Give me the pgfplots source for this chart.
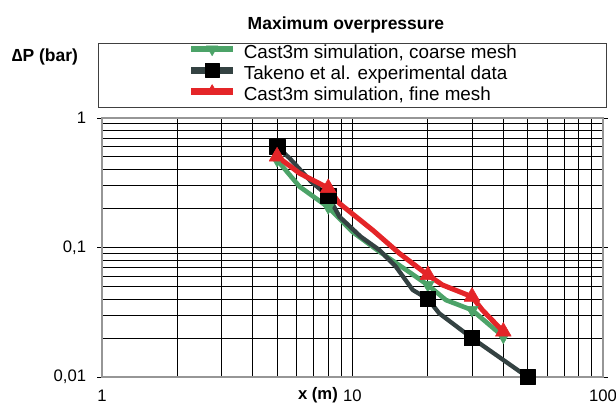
\documentclass[border=0pt]{standalone}
\usepackage{pgfplots}
\pgfplotsset{compat=1.18}
\usepackage{fontspec}
\setmainfont{Liberation Sans}

\definecolor{coarse}{RGB}{76,163,104}
\definecolor{expline}{RGB}{52,66,66}
\definecolor{fine}{RGB}{228,37,40}
\definecolor{framegray}{RGB}{150,150,150}

\begin{document}
\begin{tikzpicture}
% page frame: 616 x 407 px at 0.6pt per px, axis box at (102..603, 118..377)
\useasboundingbox (-61.2pt,-18pt) rectangle (308.4pt,226.2pt);
\begin{axis}[
  xmode=log, ymode=log,
  scale only axis,
  width=300.6pt, height=155.4pt,
  xmin=1, xmax=100, ymin=0.01, ymax=1,
  xtick={1,10,100}, xticklabels={1,10,100},
  ytick={0.01,0.1,1}, yticklabels={{0,01},{0,1},{1}},
  grid=both,
  major grid style={black, line width=0.6pt},
  minor grid style={black, line width=0.6pt},
  axis line style={framegray, line width=1.5pt},
  xtick style={draw=none},
  ytick style={black, line width=0.6pt},
  minor tick length=0pt,
  major tick length=3pt,
  tick align=outside,
  tick label style={font=\fontsize{10}{12}\selectfont},
  /pgf/number format/assume math mode=true,
  xticklabel style={yshift=-1pt},
  yticklabel style={xshift=-3pt},
  clip=false,
  legend style={at={(0.5,1)}, anchor=south, yshift=6.3pt,
    draw=black!75, line width=0.6pt, inner xsep=53.6pt, inner ysep=1.2pt,
    font=\fontsize{11.3}{13}\selectfont, row sep=0.4pt, column sep=4.5pt,
    nodes={inner sep=0pt, text height=8pt, text depth=2.5pt}},
  legend cell align=left,
  legend image code/.code={%
    \draw[line width=4pt, mark size=4pt, mark indices={2}]
      plot coordinates {(0pt,3pt) (12.5pt,3pt) (25pt,3pt)};},
]

% coarse mesh
\addplot[coarse, line width=2.8pt, line join=round, mark=triangle*,
  mark size=4.3pt, mark options={rotate=180, line width=0.3pt},
  mark indices={1,3,7,9,10}]
  coordinates {
  (5,0.474) (6.15,0.295) (8,0.205) (10,0.132) (12.8,0.093)
  (16.4,0.067) (20,0.0513) (23.6,0.0393) (30,0.0329) (40,0.0205)
  };
\addlegendentry{Cast3m simulation, coarse mesh}

% experimental data
\addplot[expline, line width=2.6pt, line join=round, mark=square*,
  mark size=4.6pt, mark options={black, fill=black, line width=0.3pt},
  mark indices={1,4,10,12,13}]
  coordinates {
  (5,0.6) (5.61,0.489) (6.84,0.322) (8,0.25) (8.87,0.173)
  (10.8,0.121) (12.8,0.0957) (14.9,0.0711) (17.4,0.047) (20,0.04)
  (22.2,0.031) (30,0.02) (50,0.01)
  };
\addlegendentry{Takeno et al. experimental data}

% fine mesh
\addplot[fine, line width=3pt, line join=round, mark=triangle*,
  mark size=5.5pt, mark options={line width=0.3pt},
  mark indices={1,3,7,9,11}]
  coordinates {
  (5,0.505) (6.15,0.374) (8,0.288) (8.87,0.219) (12.05,0.136)
  (15.4,0.09) (20,0.0613) (22.9,0.0513) (30,0.0417) (33,0.0329)
  (40,0.0224)
  };
\addlegendentry{Cast3m simulation, fine mesh}

\node[font=\bfseries\fontsize{10.5}{12}\selectfont] at ([yshift=55.8pt]rel axis cs:0.487,1) {Maximum overpressure};
\node[font=\bfseries\fontsize{10.5}{12}\selectfont] at ([yshift=36.6pt]rel axis cs:-0.114,1) {∆P (bar)};
\node[font=\bfseries\fontsize{10}{12}\selectfont] at ([yshift=-10.8pt]rel axis cs:0.431,0) {x (m)};
\end{axis}
\end{tikzpicture}
\end{document}
